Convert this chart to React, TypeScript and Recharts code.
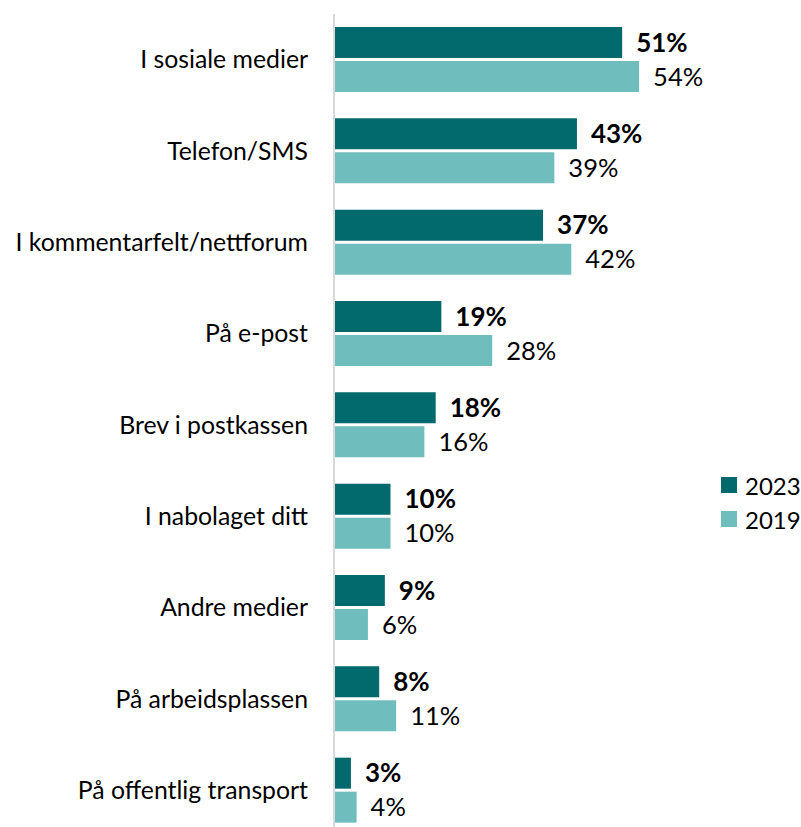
import React from 'react';
import { BarChart, Bar, XAxis, YAxis, LabelList } from 'recharts';

const categories = [
  'I sosiale medier',
  'Telefon/SMS',
  'I kommentarfelt/nettforum',
  'På e-post',
  'Brev i postkassen',
  'I nabolaget ditt',
  'Andre medier',
  'På arbeidsplassen',
  'På offentlig transport',
];
const values2023 = [51, 43, 37, 19, 18, 10, 9, 8, 3];
const values2019 = [54, 39, 42, 28, 16, 10, 6, 11, 4];
const seriesNames = ['2023', '2019'];

const DARK = '#026A6C';
const LIGHT = '#70BDBE';
const FONT = 'Lato, "Open Sans", sans-serif';

const data = categories.map((name, i) => ({
  name,
  y2023: values2023[i],
  y2019: values2019[i],
}));

function LegendBox() {
  const colors = [DARK, LIGHT];
  return (
    <div style={{ position: 'absolute', left: 721, top: 468, fontFamily: FONT }}>
      {seriesNames.map((label, i) => (
        <div key={label} style={{ display: 'flex', alignItems: 'center', height: 34 }}>
          <span style={{ width: 16, height: 16, background: colors[i], marginRight: 8 }} />
          <span style={{ fontSize: 24, color: '#000' }}>{label}</span>
        </div>
      ))}
    </div>
  );
}

export default function App() {
  return (
    <div style={{ position: 'absolute', left: 0, top: 0, width: 801, height: 827, overflow: 'hidden', background: '#fff' }}>
      <BarChart
        width={801}
        height={836}
        data={data}
        layout="vertical"
        margin={{ top: 14, right: 128, bottom: 0, left: 0 }}
        barSize={31}
        barGap={3}
      >
        <XAxis type="number" domain={[0, 60]} hide />
        <YAxis
          type="category"
          dataKey="name"
          width={334}
          axisLine={{ stroke: '#D9D9D9', strokeWidth: 2 }}
          tickLine={false}
          tickSize={0}
          tickMargin={26}
          tick={{ fill: '#000', fontSize: 24.8, fontFamily: FONT }}
          interval={0}
        />
        <Bar dataKey="y2023" fill={DARK} isAnimationActive={false}>
          <LabelList
            dataKey="y2023"
            position="right"
            offset={14}
            formatter={(v: number) => `${v}%`}
            style={{ fill: '#000', fontSize: 26, fontWeight: 700, fontFamily: FONT }}
          />
        </Bar>
        <Bar dataKey="y2019" fill={LIGHT} isAnimationActive={false}>
          <LabelList
            dataKey="y2019"
            position="right"
            offset={14}
            formatter={(v: number) => `${v}%`}
            style={{ fill: '#000', fontSize: 25.5, fontFamily: FONT }}
          />
        </Bar>
      </BarChart>
      <LegendBox />
    </div>
  );
}
